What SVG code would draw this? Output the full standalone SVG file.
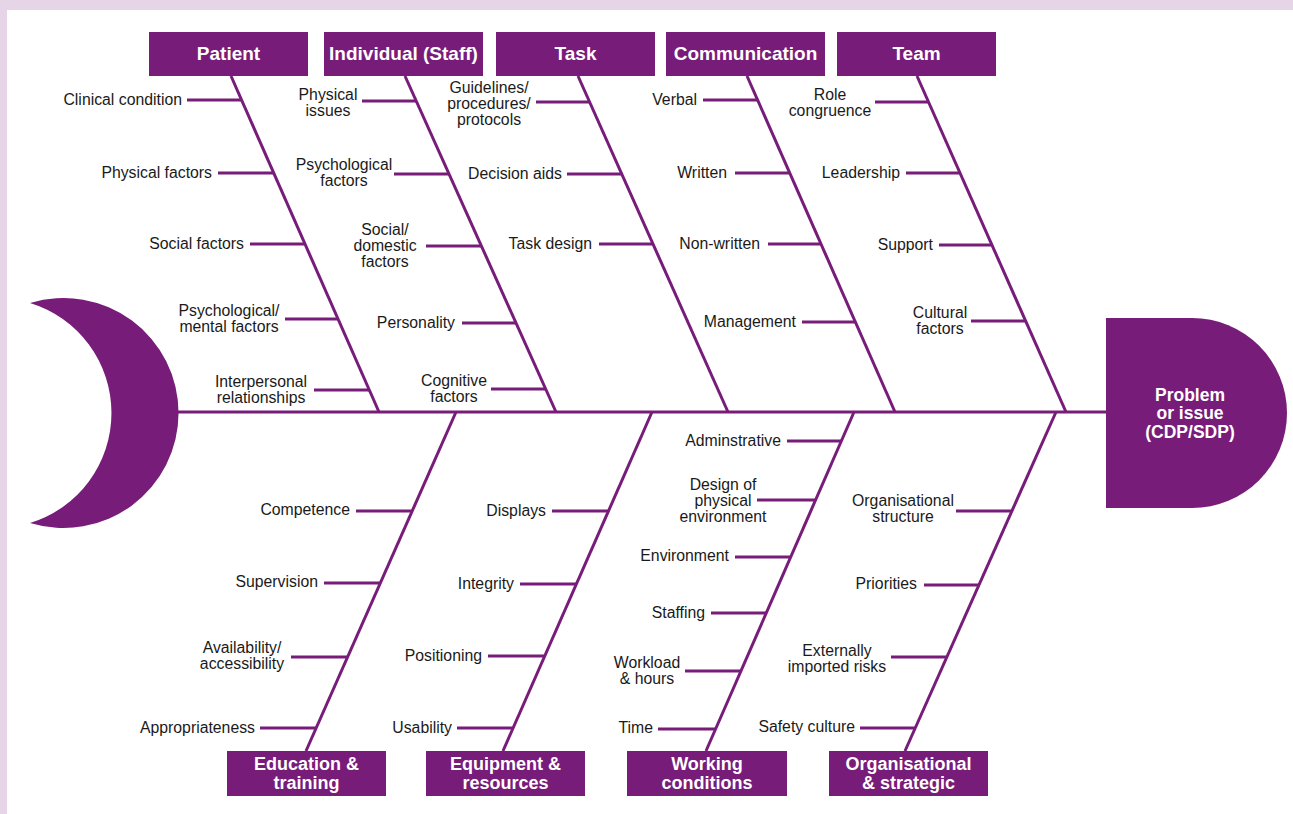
<svg xmlns="http://www.w3.org/2000/svg" width="1293" height="814" viewBox="0 0 1293 814">
<style>
.box{fill:#781c7a}
.bl{fill:#fff;font-family:"Liberation Sans",Arial,sans-serif;font-weight:bold;font-size:19px;text-anchor:middle}
.bl2{fill:#fff;font-family:"Liberation Sans",Arial,sans-serif;font-weight:bold;font-size:18px;text-anchor:middle}
.hd{fill:#fff;font-family:"Liberation Sans",Arial,sans-serif;font-weight:bold;font-size:17.5px;text-anchor:middle}
.t{fill:#1a1a1a;font-family:"Liberation Sans",Arial,sans-serif;font-size:15.8px}
.e{text-anchor:end}
.m{text-anchor:middle}
.ln{stroke:#781c7a;stroke-width:3;fill:none}
</style>
<rect x="0" y="0" width="1293" height="814" fill="#e5d5e7"/>
<rect x="7" y="10" width="1286" height="804" fill="#ffffff"/>

<g id="tail"><path class="box" d="M30,303 A115,115 0 1 1 30,523 A115,115 0 0 0 30,303 Z"/></g>
<g id="head">
<path class="box" d="M1106,318 H1192 A95,95 0 0 1 1192,508 H1106 Z"/>
<text class="hd" x="1190" y="401">Problem</text>
<text class="hd" x="1190" y="419">or issue</text>
<text class="hd" x="1190" y="438">(CDP/SDP)</text>
</g>

<g id="connectors">
<line class="ln" x1="178" y1="412" x2="1106" y2="412"/>
<line class="ln" x1="231" y1="76" x2="379" y2="412"/>
<line class="ln" x1="405" y1="76" x2="556" y2="412"/>
<line class="ln" x1="578" y1="76" x2="728" y2="412"/>
<line class="ln" x1="747" y1="76" x2="895" y2="412"/>
<line class="ln" x1="917" y1="76" x2="1066" y2="412"/>
<line class="ln" x1="456" y1="412" x2="306" y2="751"/>
<line class="ln" x1="652" y1="412" x2="503" y2="751"/>
<line class="ln" x1="854" y1="412" x2="706" y2="751"/>
<line class="ln" x1="1056" y1="412" x2="905" y2="751"/>
<line class="ln" x1="187" y1="100" x2="242" y2="100"/>
<line class="ln" x1="218" y1="173" x2="274" y2="173"/>
<line class="ln" x1="250" y1="244" x2="305" y2="244"/>
<line class="ln" x1="285" y1="319" x2="338" y2="319"/>
<line class="ln" x1="314" y1="390" x2="369" y2="390"/>
<line class="ln" x1="362" y1="101" x2="416" y2="101"/>
<line class="ln" x1="394" y1="174" x2="449" y2="174"/>
<line class="ln" x1="426" y1="246" x2="481" y2="246"/>
<line class="ln" x1="462" y1="323" x2="516" y2="323"/>
<line class="ln" x1="491" y1="389" x2="546" y2="389"/>
<line class="ln" x1="536" y1="102" x2="590" y2="102"/>
<line class="ln" x1="567" y1="174" x2="622" y2="174"/>
<line class="ln" x1="599" y1="244" x2="653" y2="244"/>
<line class="ln" x1="703" y1="100" x2="758" y2="100"/>
<line class="ln" x1="735" y1="173" x2="790" y2="173"/>
<line class="ln" x1="768" y1="244" x2="821" y2="244"/>
<line class="ln" x1="802" y1="322" x2="855" y2="322"/>
<line class="ln" x1="875" y1="102" x2="928" y2="102"/>
<line class="ln" x1="906" y1="173" x2="960" y2="173"/>
<line class="ln" x1="939" y1="245" x2="991" y2="245"/>
<line class="ln" x1="971" y1="321" x2="1025" y2="321"/>
<line class="ln" x1="356" y1="511" x2="412" y2="511"/>
<line class="ln" x1="324" y1="583" x2="380" y2="583"/>
<line class="ln" x1="291" y1="657" x2="348" y2="657"/>
<line class="ln" x1="260" y1="728" x2="316" y2="728"/>
<line class="ln" x1="552" y1="511" x2="608" y2="511"/>
<line class="ln" x1="520" y1="584" x2="576" y2="584"/>
<line class="ln" x1="488" y1="656" x2="545" y2="656"/>
<line class="ln" x1="457" y1="728" x2="513" y2="728"/>
<line class="ln" x1="787" y1="441" x2="841" y2="441"/>
<line class="ln" x1="757" y1="500" x2="816" y2="500"/>
<line class="ln" x1="735" y1="557" x2="791" y2="557"/>
<line class="ln" x1="711" y1="613" x2="766" y2="613"/>
<line class="ln" x1="685" y1="671" x2="741" y2="671"/>
<line class="ln" x1="658" y1="729" x2="715" y2="729"/>
<line class="ln" x1="956" y1="511" x2="1012" y2="511"/>
<line class="ln" x1="924" y1="585" x2="979" y2="585"/>
<line class="ln" x1="891" y1="657" x2="947" y2="657"/>
<line class="ln" x1="860" y1="728" x2="915" y2="728"/>
</g>

<g id="patient"><rect class="box" x="149" y="32" width="159" height="44"/><text class="bl" x="228.5" y="60">Patient</text></g>
<g id="individual"><rect class="box" x="324" y="32" width="159" height="44"/><text class="bl" x="403.5" y="60">Individual (Staff)</text></g>
<g id="task"><rect class="box" x="496" y="32" width="159" height="44"/><text class="bl" x="575.5" y="60">Task</text></g>
<g id="communication"><rect class="box" x="666" y="32" width="159" height="44"/><text class="bl" x="745.5" y="60">Communication</text></g>
<g id="team"><rect class="box" x="837" y="32" width="159" height="44"/><text class="bl" x="916.5" y="60">Team</text></g>

<g id="education"><rect class="box" x="227" y="751" width="159" height="45"/><text class="bl2" x="306.5" y="770">Education &amp;</text><text class="bl2" x="306.5" y="789">training</text></g>
<g id="equipment"><rect class="box" x="426" y="751" width="159" height="45"/><text class="bl2" x="505.5" y="770">Equipment &amp;</text><text class="bl2" x="505.5" y="789">resources</text></g>
<g id="working"><rect class="box" x="627" y="751" width="160" height="45"/><text class="bl2" x="707" y="770">Working</text><text class="bl2" x="707" y="789">conditions</text></g>
<g id="organisational"><rect class="box" x="829" y="751" width="159" height="45"/><text class="bl2" x="908.5" y="770">Organisational</text><text class="bl2" x="908.5" y="789">&amp; strategic</text></g>

<g id="patient-causes">
<text class="t e" x="182" y="105">Clinical condition</text>
<text class="t e" x="212" y="178">Physical factors</text>
<text class="t e" x="244" y="249">Social factors</text>
<text class="t m" x="229" y="316">Psychological/</text><text class="t m" x="229" y="332">mental factors</text>
<text class="t m" x="261" y="387">Interpersonal</text><text class="t m" x="261" y="403">relationships</text>
</g>
<g id="individual-causes">
<text class="t m" x="328" y="100">Physical</text><text class="t m" x="328" y="116">issues</text>
<text class="t m" x="344" y="170">Psychological</text><text class="t m" x="344" y="186">factors</text>
<text class="t m" x="385" y="235">Social/</text><text class="t m" x="385" y="251">domestic</text><text class="t m" x="385" y="267">factors</text>
<text class="t e" x="455" y="328">Personality</text>
<text class="t m" x="454" y="386">Cognitive</text><text class="t m" x="454" y="402">factors</text>
</g>
<g id="task-causes">
<text class="t m" x="489" y="93">Guidelines/</text><text class="t m" x="489" y="109">procedures/</text><text class="t m" x="489" y="125">protocols</text>
<text class="t e" x="562" y="179">Decision aids</text>
<text class="t e" x="592" y="249">Task design</text>
</g>
<g id="communication-causes">
<text class="t e" x="697" y="105">Verbal</text>
<text class="t e" x="727" y="178">Written</text>
<text class="t e" x="760" y="249">Non-written</text>
<text class="t e" x="796" y="327">Management</text>
</g>
<g id="team-causes">
<text class="t m" x="830" y="100">Role</text><text class="t m" x="830" y="116">congruence</text>
<text class="t e" x="900" y="178">Leadership</text>
<text class="t e" x="933" y="250">Support</text>
<text class="t m" x="940" y="318">Cultural</text><text class="t m" x="940" y="334">factors</text>
</g>
<g id="education-causes">
<text class="t e" x="350" y="515">Competence</text>
<text class="t e" x="318" y="587">Supervision</text>
<text class="t m" x="242" y="653">Availability/</text><text class="t m" x="242" y="669">accessibility</text>
<text class="t e" x="255" y="733">Appropriateness</text>
</g>
<g id="equipment-causes">
<text class="t e" x="546" y="516">Displays</text>
<text class="t e" x="514" y="589">Integrity</text>
<text class="t e" x="482" y="661">Positioning</text>
<text class="t e" x="452" y="733">Usability</text>
</g>
<g id="working-causes">
<text class="t e" x="781" y="446">Adminstrative</text>
<text class="t m" x="723" y="490">Design of</text><text class="t m" x="723" y="506">physical</text><text class="t m" x="723" y="522">environment</text>
<text class="t e" x="729" y="561">Environment</text>
<text class="t e" x="705" y="618">Staffing</text>
<text class="t m" x="647" y="668">Workload</text><text class="t m" x="647" y="684">&amp; hours</text>
<text class="t e" x="653" y="733">Time</text>
</g>
<g id="organisational-causes">
<text class="t m" x="903" y="506">Organisational</text><text class="t m" x="903" y="522">structure</text>
<text class="t e" x="917" y="589">Priorities</text>
<text class="t m" x="837" y="656">Externally</text><text class="t m" x="837" y="672">imported risks</text>
<text class="t e" x="855" y="732">Safety culture</text>
</g>
</svg>
